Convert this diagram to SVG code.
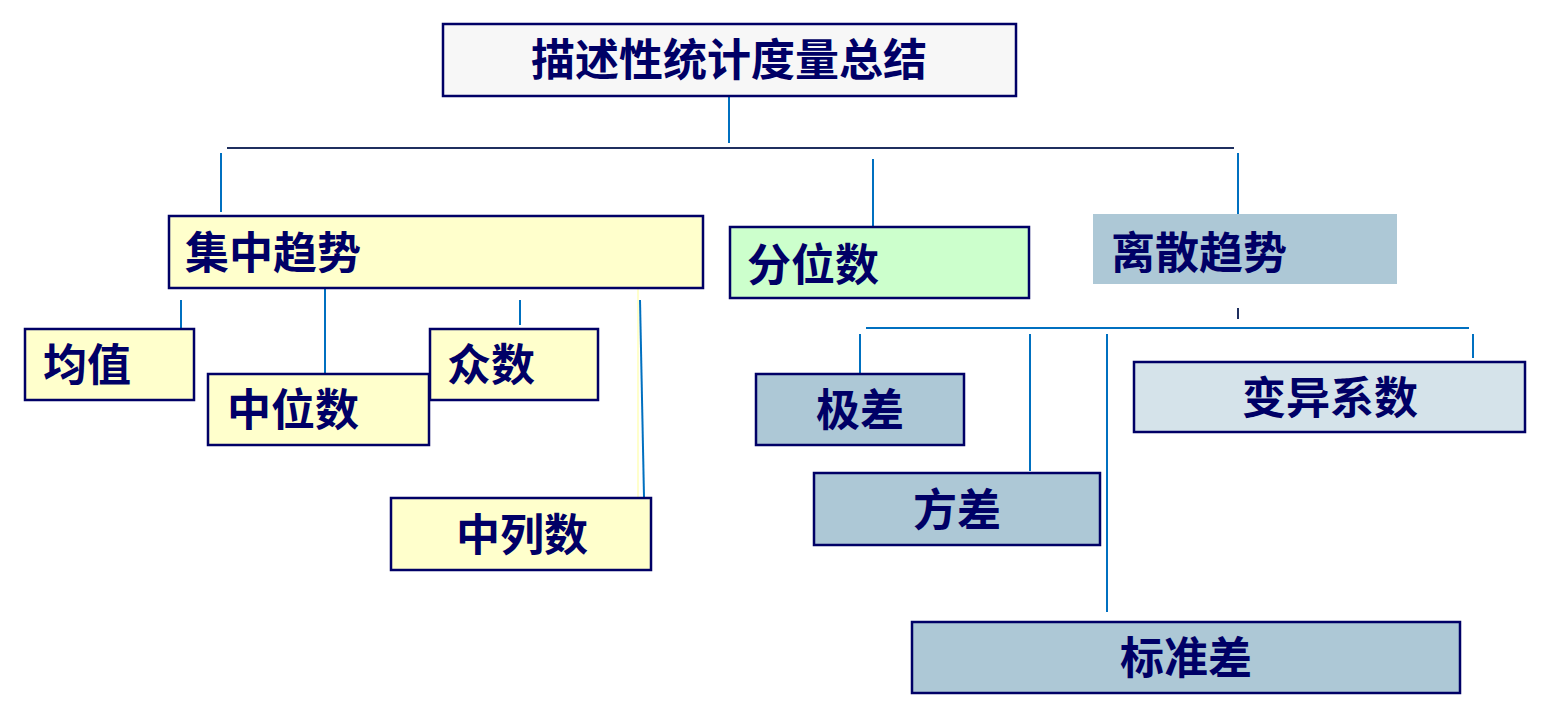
<svg xmlns="http://www.w3.org/2000/svg" width="1548" height="723" viewBox="0 0 1548 723">
<style>
.box{stroke:#000066;stroke-width:2.5}
.y{fill:#ffffcc}
.g{fill:#ccffcc}
.b{fill:#adc8d6}
.lb{fill:#d5e3ea}
.t{font-family:"Noto Sans CJK SC","Noto Sans CJK JP",sans-serif;font-weight:bold;font-size:44px;fill:#000066}
.c{text-anchor:middle}
.ln{stroke:#0070c0;stroke-width:2;fill:none}
.dk{stroke:#1f2f5f;stroke-width:2;fill:none}
</style>
<rect width="1548" height="723" fill="#ffffff"/>
<g id="connectors">
<line class="ln" x1="729" y1="97" x2="729" y2="143"/>
<line class="dk" x1="227" y1="148" x2="1234" y2="148"/>
<line class="ln" x1="221" y1="153" x2="221" y2="212"/>
<line class="ln" x1="873" y1="159" x2="873" y2="226"/>
<line class="ln" x1="1238" y1="153" x2="1238" y2="215"/>
<line class="ln" x1="181" y1="300" x2="181" y2="328"/>
<line class="ln" x1="325" y1="289" x2="325" y2="380"/>
<line class="ln" x1="520" y1="300" x2="520" y2="325"/>
<line x1="638" y1="289" x2="638" y2="497" stroke="#ffffcc" stroke-width="2"/>
<line class="ln" x1="640" y1="300" x2="644" y2="497"/>
<line class="dk" x1="1238" y1="308" x2="1238" y2="319" stroke="#000066"/>
<line class="ln" x1="866" y1="328" x2="1469" y2="328"/>
<line class="ln" x1="860" y1="334" x2="860" y2="373"/>
<line class="ln" x1="1030" y1="334" x2="1030" y2="471"/>
<line class="ln" x1="1107" y1="334" x2="1107" y2="612"/>
<line class="ln" x1="1473" y1="334" x2="1473" y2="358"/>
</g>
<g id="root"><rect class="box" x="443" y="24" width="573" height="72" fill="#f7f7f7"/><text class="t c" x="729" y="76">描述性统计度量总结</text></g>
<g id="central"><rect class="box y" x="169" y="216" width="534" height="72"/><text class="t" x="185" y="269">集中趋势</text></g>
<g id="quantile"><rect class="box g" x="730" y="227" width="299" height="71"/><text class="t" x="747" y="281">分位数</text></g>
<g id="dispersion"><rect class="b" x="1093" y="214" width="304" height="70"/><text class="t" x="1111" y="269">离散趋势</text></g>
<g id="mean"><rect class="box y" x="25" y="329" width="169" height="71"/><text class="t" x="43" y="381">均值</text></g>
<g id="median"><rect class="box y" x="208" y="374" width="221" height="71"/><text class="t" x="227" y="426">中位数</text></g>
<g id="mode"><rect class="box y" x="430" y="329" width="168" height="71"/><text class="t" x="447" y="381">众数</text></g>
<g id="midrange"><rect class="box y" x="391" y="498" width="260" height="72"/><text class="t c" x="522" y="551">中列数</text></g>
<g id="range"><rect class="box b" x="756" y="374" width="208" height="71"/><text class="t c" x="860" y="426">极差</text></g>
<g id="cv"><rect class="box lb" x="1134" y="362" width="391" height="70"/><text class="t c" x="1330" y="414">变异系数</text></g>
<g id="variance"><rect class="box b" x="814" y="473" width="286" height="72"/><text class="t c" x="957" y="526">方差</text></g>
<g id="stddev"><rect class="box b" x="912" y="622" width="548" height="71"/><text class="t c" x="1186" y="674">标准差</text></g>
</svg>
